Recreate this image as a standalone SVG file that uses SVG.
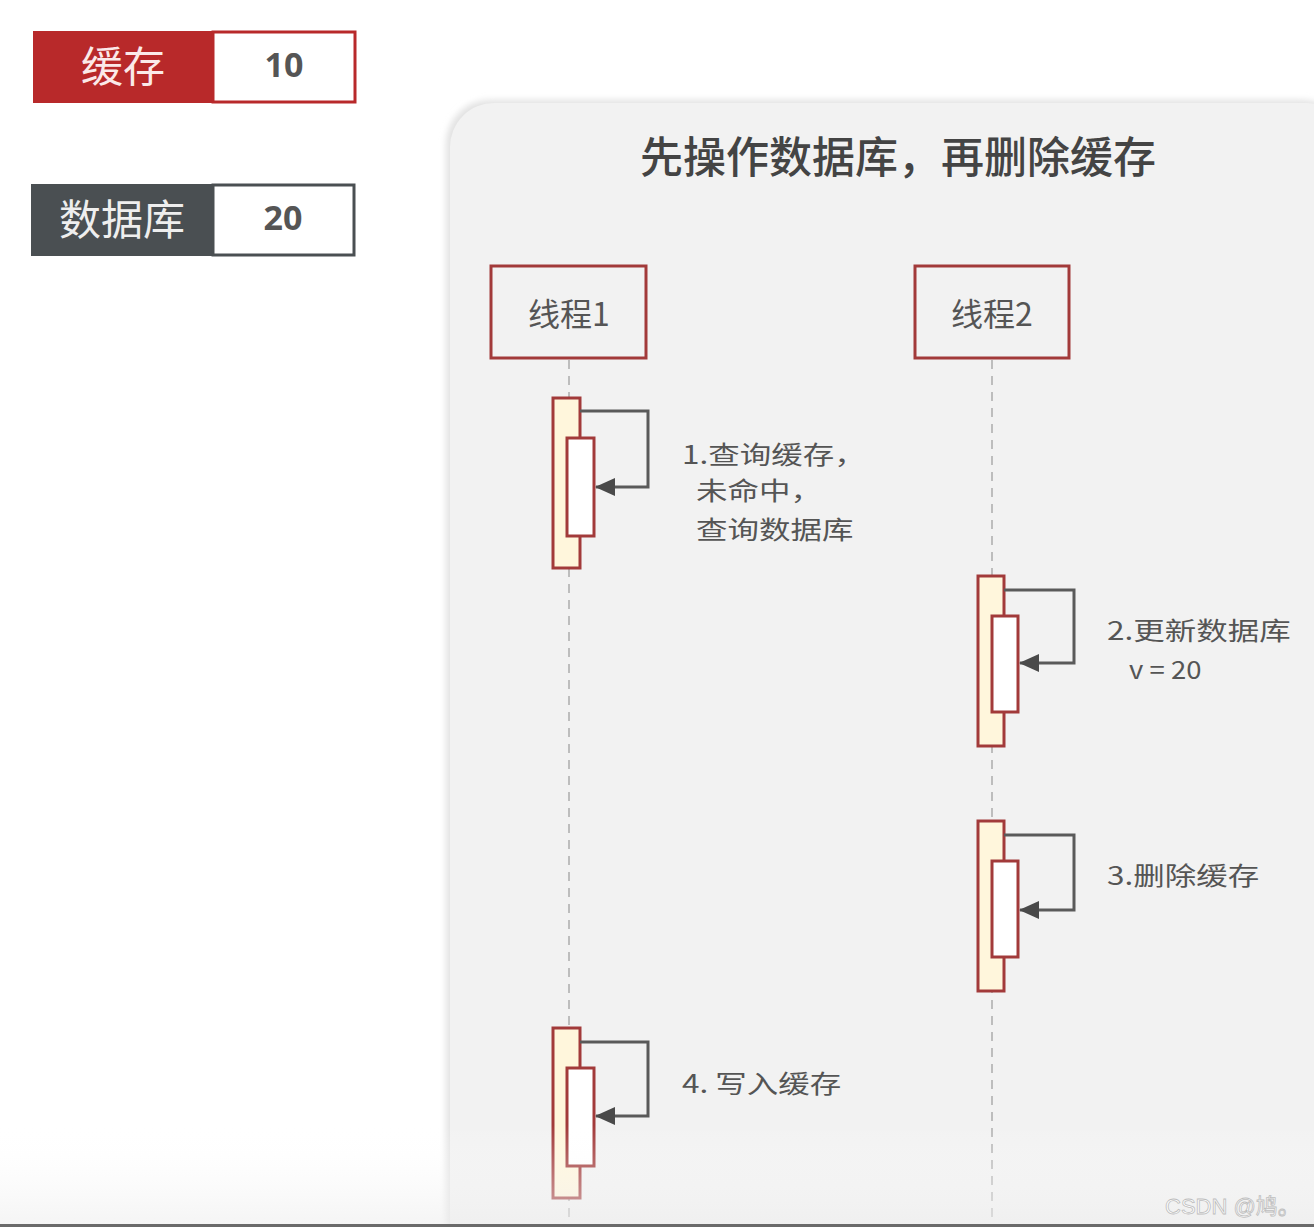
<svg xmlns="http://www.w3.org/2000/svg" width="1314" height="1227" viewBox="0 0 1314 1227">
<defs>
<style>
.t{font-family:"Noto Sans CJK SC","Liberation Sans",sans-serif;fill:#555}
.lb{font-family:"Noto Sans CJK SC","Liberation Sans",sans-serif;fill:#555;font-size:25px}
.thread{fill:#f2f2f2;stroke:#a23a3a;stroke-width:3}
.outer{fill:#fff6dc;stroke:#a23a3a;stroke-width:3}
.inner{fill:#ffffff;stroke:#a23a3a;stroke-width:3}
.msg{fill:none;stroke:#5a5a5a;stroke-width:3}
.life{stroke:#bdbdbd;stroke-width:2;stroke-dasharray:9 7}
</style>
<marker id="ah2" markerWidth="20" markerHeight="18" refX="19" refY="9" orient="auto" markerUnits="userSpaceOnUse">
<path d="M0,0 L20,9 L0,18 Z" fill="#4a4a4a"/>
</marker>
<linearGradient id="fade" x1="0" y1="0" x2="0" y2="1">
<stop offset="0" stop-color="#ffffff" stop-opacity="0"/>
<stop offset="1" stop-color="#eeeeee" stop-opacity="0.6"/>
</linearGradient>
<filter id="sh" x="-10%" y="-10%" width="120%" height="120%">
<feGaussianBlur stdDeviation="3"/>
</filter>
</defs>
<rect x="0" y="0" width="1314" height="1227" fill="#ffffff"/>

<!-- panel -->
<rect x="446" y="100" width="900" height="1160" rx="44" fill="#e2e2e2" filter="url(#sh)"/>
<rect x="450" y="103" width="900" height="1160" rx="44" fill="#f2f2f2"/>
<text class="t" x="898" y="173" font-size="43" font-weight="500" text-anchor="middle" style="fill:#444">先操作数据库，再删除缓存</text>

<!-- legend -->
<g id="cache">
<rect x="33" y="31" width="180" height="72" fill="#b8292a"/>
<rect x="213" y="32" width="142" height="70" fill="#fff" stroke="#b8292a" stroke-width="3"/>
<text class="t" x="123" y="82" font-size="42" text-anchor="middle" style="fill:#fbe9e9">缓存</text>
<text x="284" y="77" font-size="34" font-weight="bold" text-anchor="middle" font-family="'Open Sans','Liberation Sans',sans-serif" fill="#555">10</text>
</g>
<g id="db">
<rect x="31" y="184" width="182" height="72" fill="#4a4f52"/>
<rect x="213" y="185" width="141" height="70" fill="#fff" stroke="#4a4f52" stroke-width="3"/>
<text class="t" x="122" y="235" font-size="42" text-anchor="middle" style="fill:#eeeeee">数据库</text>
<text x="283" y="230" font-size="34" font-weight="bold" text-anchor="middle" font-family="'Open Sans','Liberation Sans',sans-serif" fill="#555">20</text>
</g>

<!-- lifelines -->
<g id="connectors">
<line class="life" x1="569" y1="360" x2="569" y2="1227"/>
<line class="life" x1="992" y1="360" x2="992" y2="1227"/>
</g>

<g id="thread1">
<rect class="thread" x="491" y="266" width="155" height="92"/>
<text class="t" x="569" y="326" font-size="32" text-anchor="middle">线程1</text>
</g>
<g id="thread2">
<rect class="thread" x="915" y="266" width="154" height="92"/>
<text class="t" x="992" y="326" font-size="32" text-anchor="middle">线程2</text>
</g>

<g id="step1">
<rect class="outer" x="553" y="398" width="27" height="170"/>
<rect class="inner" x="567" y="438" width="27" height="98"/>
<path class="msg" d="M580,411 H648 V487 H596" marker-end="url(#ah2)"/>
<text class="lb" transform="translate(682,464) scale(1.26,1)">1.查询缓存，</text>
<text class="lb" transform="translate(696,500) scale(1.26,1)">未命中，</text>
<text class="lb" transform="translate(696,539) scale(1.26,1)">查询数据库</text>
</g>
<g id="step2">
<rect class="outer" x="978" y="576" width="26" height="170"/>
<rect class="inner" x="992" y="616" width="26" height="96"/>
<path class="msg" d="M1004,590 H1074 V663 H1020" marker-end="url(#ah2)"/>
<text class="lb" transform="translate(1107,640) scale(1.26,1)">2.更新数据库</text>
<text class="lb" transform="translate(1129,679) scale(1.1,1)">v = 20</text>
</g>
<g id="step3">
<rect class="outer" x="978" y="821" width="26" height="170"/>
<rect class="inner" x="992" y="861" width="26" height="96"/>
<path class="msg" d="M1004,835 H1074 V910 H1020" marker-end="url(#ah2)"/>
<text class="lb" transform="translate(1107,885) scale(1.26,1)">3.删除缓存</text>
</g>
<g id="step4">
<rect class="outer" x="553" y="1028" width="27" height="170"/>
<rect class="inner" x="567" y="1068" width="27" height="98"/>
<path class="msg" d="M580,1042 H648 V1116 H596" marker-end="url(#ah2)"/>
<text class="lb" transform="translate(682,1093) scale(1.26,1)">4. 写入缓存</text>
</g>

<!-- bottom fade -->
<rect x="0" y="1125" width="1314" height="99" fill="url(#fade)"/>
<rect x="0" y="1224" width="1314" height="3" fill="#6a6a6a"/>
<text x="1165" y="1214" font-size="22" font-family="'Liberation Sans','Noto Sans CJK SC',sans-serif" fill="#ffffff" stroke="#bdbdbd" stroke-width="0.8">CSDN @鸠。</text>
</svg>
